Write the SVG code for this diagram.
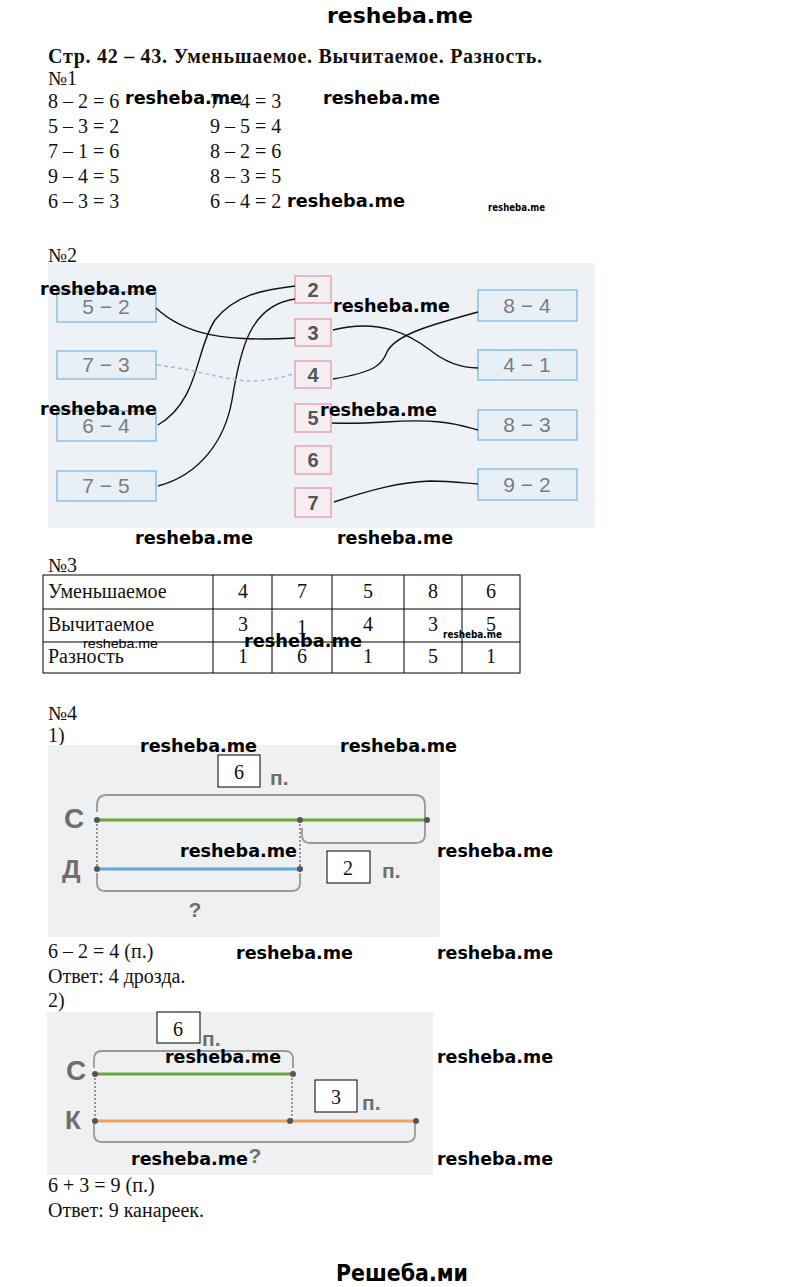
<svg xmlns="http://www.w3.org/2000/svg" width="800" height="1287" viewBox="0 0 800 1287">
<style>
.t{font-family:"Liberation Serif",serif;font-size:20px;fill:#111}
.tb{font-family:"Liberation Serif",serif;font-size:20px;font-weight:bold;fill:#111}
.wm{font-family:"DejaVu Sans",sans-serif;font-weight:bold;font-size:17px;fill:#000}
.wms{font-family:"DejaVu Sans",sans-serif;font-weight:bold;font-size:10px;fill:#000}
.ex{font-family:"Liberation Sans",sans-serif;font-size:21px;fill:#7d7d7d;text-anchor:middle}
.num{font-family:"Liberation Sans",sans-serif;font-size:20px;font-weight:bold;fill:#555;text-anchor:middle}
.bb{fill:#e7f0f7;stroke:#8ec0e2;stroke-width:1.5}
.pb{fill:#f4eef1;stroke:#e6a3b6;stroke-width:1.5}
.ln{fill:none;stroke:#111;stroke-width:1.4}
.gl{font-family:"Liberation Sans",sans-serif;font-weight:bold;fill:#6e6e6e}
.br{fill:none;stroke:#999;stroke-width:1.8}
.dv{stroke:#777;stroke-width:1.5;stroke-dasharray:2,2}
.dot{fill:#555}
.wb{fill:#fff;stroke:#000;stroke-width:1}
.cell{fill:none;stroke:#000;stroke-width:1}
.c{text-anchor:middle}
</style>

<!-- header / footer -->
<text x="400" y="23" class="wm" style="font-size:22px" text-anchor="middle" textLength="146" lengthAdjust="spacingAndGlyphs">resheba.me</text>
<text x="402" y="1281" class="wm" style="font-size:23px" text-anchor="middle" textLength="132" lengthAdjust="spacingAndGlyphs">Решеба.ми</text>

<!-- Section 1 -->
<g id="section1">
<text x="48" y="63" class="tb" textLength="494">Стр. 42 – 43. Уменьшаемое. Вычитаемое. Разность.</text>
<text x="48" y="85" class="t">№1</text>
<text x="48" y="108" class="t">8 – 2 = 6</text>
<text x="48" y="133" class="t">5 – 3 = 2</text>
<text x="48" y="158" class="t">7 – 1 = 6</text>
<text x="48" y="183" class="t">9 – 4 = 5</text>
<text x="48" y="208" class="t">6 – 3 = 3</text>
<text x="210" y="108" class="t">7 – 4 = 3</text>
<text x="210" y="133" class="t">9 – 5 = 4</text>
<text x="210" y="158" class="t">8 – 2 = 6</text>
<text x="210" y="183" class="t">8 – 3 = 5</text>
<text x="210" y="208" class="t">6 – 4 = 2</text>
<text x="125" y="104" class="wm" textLength="117" lengthAdjust="spacingAndGlyphs">resheba.me</text>
<text x="323" y="104" class="wm" textLength="117" lengthAdjust="spacingAndGlyphs">resheba.me</text>
<text x="287" y="207" class="wm" textLength="118" lengthAdjust="spacingAndGlyphs">resheba.me</text>
<text x="488" y="211" class="wms" textLength="57" lengthAdjust="spacingAndGlyphs">resheba.me</text>
</g>

<!-- Section 2 -->
<rect x="48" y="263" width="547" height="265" fill="#eef2f6"/>
<text x="48" y="262" class="t">№2</text>
<g id="left-boxes">
<g id="b52"><rect x="57" y="292" width="99" height="30" class="bb"/><text x="106" y="314" class="ex">5 − 2</text></g>
<g id="b73"><rect x="57" y="351" width="99" height="28" class="bb"/><text x="106" y="372" class="ex">7 − 3</text></g>
<g id="b64"><rect x="57" y="411" width="99" height="30" class="bb"/><text x="106" y="433" class="ex">6 − 4</text></g>
<g id="b75"><rect x="57" y="471" width="99" height="30" class="bb"/><text x="106" y="493" class="ex">7 − 5</text></g>
</g>
<g id="right-boxes">
<g id="b84"><rect x="478" y="290" width="99" height="31" class="bb"/><text x="527" y="313" class="ex">8 − 4</text></g>
<g id="b41"><rect x="478" y="350" width="99" height="30" class="bb"/><text x="527" y="372" class="ex">4 − 1</text></g>
<g id="b83"><rect x="478" y="410" width="99" height="30" class="bb"/><text x="527" y="432" class="ex">8 − 3</text></g>
<g id="b92"><rect x="478" y="469" width="99" height="31" class="bb"/><text x="527" y="492" class="ex">9 − 2</text></g>
</g>
<g id="center-boxes">
<g id="n2"><rect x="295" y="276" width="36" height="27" class="pb"/><text x="313" y="297" class="num">2</text></g>
<g id="n3"><rect x="295" y="319" width="36" height="27" class="pb"/><text x="313" y="340" class="num">3</text></g>
<g id="n4"><rect x="295" y="361" width="36" height="27" class="pb"/><text x="313" y="382" class="num">4</text></g>
<g id="n5"><rect x="295" y="404" width="36" height="28" class="pb"/><text x="313" y="425" class="num">5</text></g>
<g id="n6"><rect x="295" y="446" width="36" height="28" class="pb"/><text x="313" y="467" class="num">6</text></g>
<g id="n7"><rect x="295" y="488" width="36" height="29" class="pb"/><text x="313" y="510" class="num">7</text></g>
</g>
<g id="connectors">
<path class="ln" d="M156,308 C185,335 225,342 295,338"/>
<path class="ln" d="M158,425 C200,400 195,350 215,320 C235,295 262,290 295,286"/>
<path class="ln" d="M158,486 C200,475 225,440 232,400 C240,350 250,305 295,299"/>
<path class="ln" d="M333,330 C380,318 410,335 430,350 C445,362 460,368 478,368"/>
<path class="ln" d="M333,379 C375,372 382,365 387,352 C395,335 430,325 478,312"/>
<path class="ln" d="M332,423 C380,425 400,418 440,422 C460,424 470,428 478,430"/>
<path class="ln" d="M334,502 C370,490 400,482 430,481 C450,481 465,483 478,484"/>
<path d="M157,365 C200,370 230,382 255,381 C275,380 285,376 293,374" fill="none" stroke="#9cc2de" stroke-width="1.5" stroke-dasharray="4,3"/>
</g>
<g id="wm2">
<text x="40" y="295" class="wm" textLength="117" lengthAdjust="spacingAndGlyphs">resheba.me</text>
<text x="333" y="312" class="wm" textLength="117" lengthAdjust="spacingAndGlyphs">resheba.me</text>
<text x="40" y="415" class="wm" textLength="117" lengthAdjust="spacingAndGlyphs">resheba.me</text>
<text x="320" y="416" class="wm" textLength="117" lengthAdjust="spacingAndGlyphs">resheba.me</text>
<text x="135" y="544" class="wm" textLength="118" lengthAdjust="spacingAndGlyphs">resheba.me</text>
<text x="337" y="544" class="wm" textLength="116" lengthAdjust="spacingAndGlyphs">resheba.me</text>
</g>

<!-- Section 3 -->
<g id="section3">
<text x="48" y="572" class="t">№3</text>
<rect x="43" y="575" width="477" height="98" class="cell"/>
<line x1="43" y1="609" x2="520" y2="609" class="cell"/>
<line x1="43" y1="642" x2="520" y2="642" class="cell"/>
<line x1="213" y1="575" x2="213" y2="673" class="cell"/>
<line x1="272" y1="575" x2="272" y2="673" class="cell"/>
<line x1="332" y1="575" x2="332" y2="673" class="cell"/>
<line x1="404" y1="575" x2="404" y2="673" class="cell"/>
<line x1="462" y1="575" x2="462" y2="673" class="cell"/>
<text x="48" y="598" class="t">Уменьшаемое</text>
<text x="48" y="631" class="t">Вычитаемое</text>
<text x="48" y="663" class="t">Разность</text>
<g class="t c">
<text x="243" y="598">4</text><text x="302" y="598">7</text><text x="368" y="598">5</text><text x="433" y="598">8</text><text x="491" y="598">6</text>
<text x="243" y="631">3</text><text x="302" y="634">1</text><text x="368" y="631">4</text><text x="433" y="631">3</text><text x="491" y="631">5</text>
<text x="243" y="663">1</text><text x="302" y="663">6</text><text x="368" y="663">1</text><text x="433" y="663">5</text><text x="491" y="663">1</text>
</g>
<text x="83" y="648" style="font-family:'Liberation Sans',sans-serif;font-size:13px;fill:#000" textLength="75" lengthAdjust="spacingAndGlyphs">resheba.me</text>
<text x="244" y="647" class="wm" textLength="118" lengthAdjust="spacingAndGlyphs">resheba.me</text>
<text x="443" y="638" class="wms" textLength="59" lengthAdjust="spacingAndGlyphs">resheba.me</text>
</g>

<!-- Section 4 -->
<text x="48" y="720" class="t">№4</text>
<text x="48" y="742" class="t">1)</text>
<g id="diagram1">
<rect x="48" y="745" width="392" height="192" fill="#eef0f2"/>
<path class="br" d="M97,812 V805 Q97,795 107,795 H415 Q425,795 425,805 V835 Q425,843 415,843 H310 Q302,843 302,835 V828"/>
<path class="br" d="M97,873 V883 Q97,891 105,891 H292 Q300,891 300,883 V873"/>
<line x1="97" y1="820" x2="97" y2="869" class="dv"/>
<line x1="300" y1="820" x2="300" y2="869" class="dv"/>
<line x1="97" y1="820" x2="427" y2="820" stroke="#6aa83c" stroke-width="3"/>
<line x1="97" y1="869" x2="300" y2="869" stroke="#5aaad8" stroke-width="3"/>
<circle cx="97" cy="820" r="3" class="dot"/><circle cx="300" cy="820" r="3" class="dot"/><circle cx="427" cy="820" r="3" class="dot"/>
<circle cx="97" cy="869" r="3" class="dot"/><circle cx="300" cy="869" r="3" class="dot"/>
<text x="64" y="828" class="gl" style="font-size:28px">С</text>
<text x="62" y="878" class="gl" style="font-size:26px">Д</text>
<text x="195" y="917" class="gl c" style="font-size:21px">?</text>
<rect x="218" y="755" width="42" height="32" class="wb"/>
<text x="239" y="779" class="t c">6</text>
<text x="270" y="785" class="gl" style="font-size:21px">п.</text>
<rect x="327" y="851" width="43" height="32" class="wb"/>
<text x="348" y="875" class="t c">2</text>
<text x="382" y="878" class="gl" style="font-size:21px">п.</text>
</g>
<text x="140" y="752" class="wm" textLength="117" lengthAdjust="spacingAndGlyphs">resheba.me</text>
<text x="340" y="752" class="wm" textLength="117" lengthAdjust="spacingAndGlyphs">resheba.me</text>
<text x="180" y="857" class="wm" textLength="117" lengthAdjust="spacingAndGlyphs">resheba.me</text>
<text x="437" y="857" class="wm" textLength="116" lengthAdjust="spacingAndGlyphs">resheba.me</text>
<text x="48" y="958" class="t">6 – 2 = 4 (п.)</text>
<text x="48" y="983" class="t">Ответ: 4 дрозда.</text>
<text x="236" y="959" class="wm" textLength="117" lengthAdjust="spacingAndGlyphs">resheba.me</text>
<text x="437" y="959" class="wm" textLength="116" lengthAdjust="spacingAndGlyphs">resheba.me</text>

<text x="48" y="1007" class="t">2)</text>
<g id="diagram2">
<rect x="47" y="1012" width="386" height="163" fill="#eef0f2"/>
<path class="br" d="M94,1068 V1059 Q94,1051 102,1051 H285 Q293,1051 293,1059 V1068"/>
<path class="br" d="M94,1124 V1134 Q94,1142 102,1142 H407 Q415,1142 415,1134 V1124"/>
<line x1="95" y1="1074" x2="95" y2="1121" class="dv"/>
<line x1="292" y1="1074" x2="292" y2="1121" class="dv"/>
<line x1="95" y1="1074" x2="293" y2="1074" stroke="#6aa83c" stroke-width="3"/>
<line x1="95" y1="1121" x2="416" y2="1121" stroke="#f0a05a" stroke-width="3"/>
<circle cx="95" cy="1074" r="3" class="dot"/><circle cx="293" cy="1074" r="3" class="dot"/>
<circle cx="95" cy="1121" r="3" class="dot"/><circle cx="290" cy="1121" r="3" class="dot"/><circle cx="416" cy="1121" r="3" class="dot"/>
<text x="66" y="1080" class="gl" style="font-size:28px">С</text>
<text x="65" y="1129" class="gl" style="font-size:26px">К</text>
<text x="255" y="1163" class="gl c" style="font-size:21px">?</text>
<rect x="157" y="1012" width="43" height="31" class="wb"/>
<text x="178" y="1036" class="t c">6</text>
<text x="202" y="1046" class="gl" style="font-size:21px">п.</text>
<rect x="315" y="1080" width="42" height="32" class="wb"/>
<text x="336" y="1104" class="t c">3</text>
<text x="362" y="1110" class="gl" style="font-size:21px">п.</text>
</g>
<text x="165" y="1063" class="wm" textLength="116" lengthAdjust="spacingAndGlyphs">resheba.me</text>
<text x="437" y="1063" class="wm" textLength="116" lengthAdjust="spacingAndGlyphs">resheba.me</text>
<text x="131" y="1165" class="wm" textLength="117" lengthAdjust="spacingAndGlyphs">resheba.me</text>
<text x="437" y="1165" class="wm" textLength="116" lengthAdjust="spacingAndGlyphs">resheba.me</text>
<text x="48" y="1192" class="t">6 + 3 = 9 (п.)</text>
<text x="48" y="1217" class="t">Ответ: 9 канареек.</text>
</svg>
